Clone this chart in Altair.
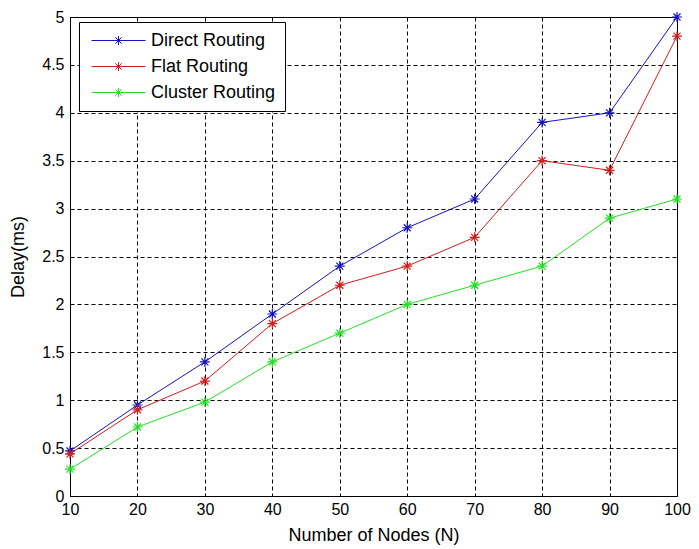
import altair as alt
import pandas as pd

nodes = [10, 20, 30, 40, 50, 60, 70, 80, 90, 100]
direct = [0.47, 0.95, 1.4, 1.9, 2.4, 2.8, 3.1, 3.9, 4.0, 5.0]
flat = [0.44, 0.9, 1.2, 1.8, 2.2, 2.4, 2.7, 3.5, 3.4, 4.8]
cluster = [0.28, 0.72, 0.98, 1.4, 1.7, 2.0, 2.2, 2.4, 2.9, 3.1]
series_names = ["Direct Routing", "Flat Routing", "Cluster Routing"]
series_colors = ["#1414c0", "#d41c1c", "#22e022"]
y_ticks = [0, 0.5, 1, 1.5, 2, 2.5, 3, 3.5, 4, 4.5, 5]

rows = []
for name, vals in zip(series_names, [direct, flat, cluster]):
    for n, v in zip(nodes, vals):
        rows.append({"nodes": n, "delay": v, "series": name})
df = pd.DataFrame(rows)

star = "M-1,0L1,0M0,-1L0,1M-0.7,-0.7L0.7,0.7M-0.7,0.7L0.7,-0.7"
legend_sym = ("M-3,0L3,0M-0.5,0L0.5,0M0,-0.5L0,0.5"
              "M-0.35,-0.35L0.35,0.35M-0.35,0.35L0.35,-0.35")

FONT = "Liberation Sans"

x = alt.X(
    "nodes:Q",
    scale=alt.Scale(domain=[10, 100], nice=False, zero=False),
    axis=alt.Axis(values=nodes, title="Number of Nodes (N)", labelPadding=5,
                  labelFlush=False, labelOverlap=False,
                  titleY=39, titleBaseline="middle"),
)
y = alt.Y(
    "delay:Q",
    scale=alt.Scale(domain=[0, 5], nice=False),
    axis=alt.Axis(values=y_ticks, format="~g", title="Delay(ms)", labelPadding=6,
                  labelFlush=False, labelOverlap=False,
                  titleX=-52, titleY=239.5, titleBaseline="middle"),
)
color = alt.Color(
    "series:N",
    scale=alt.Scale(domain=series_names, range=series_colors),
    legend=alt.Legend(
        title=None, orient="none", legendX=9, legendY=5,
        symbolType=legend_sym, symbolSize=324, symbolStrokeWidth=1,
        symbolOffset=21, labelOffset=23, rowPadding=7, padding=9,
        strokeColor="black", fillColor="white",
        labelFont=FONT, labelFontSize=18, labelColor="black",
    ),
)

base = alt.Chart(df).encode(x=x, y=y, color=color)
lines = base.mark_line(strokeWidth=1)
points = base.mark_point(shape=star, size=100, filled=False, strokeWidth=1.2, opacity=1)

chart = (
    alt.layer(lines, points)
    .properties(
        width=607, height=479,
        autosize=alt.AutoSizeParams(type="none"),
        padding={"left": 62, "top": 9, "right": 14, "bottom": 52},
        background="white",
    )
    .configure_view(stroke="black", strokeWidth=1)
    .configure_axis(
        grid=True, gridColor="black", gridDash=[4, 3], gridOpacity=1, gridWidth=1,
        domainColor="black", ticks=False,
        labelFont=FONT, labelFontSize=16, labelColor="black",
        titleFont=FONT, titleFontSize=18, titleFontWeight="normal", titleColor="black",
    )
)

chart.save("out.html", embed_options={"renderer": "svg", "actions": False})
